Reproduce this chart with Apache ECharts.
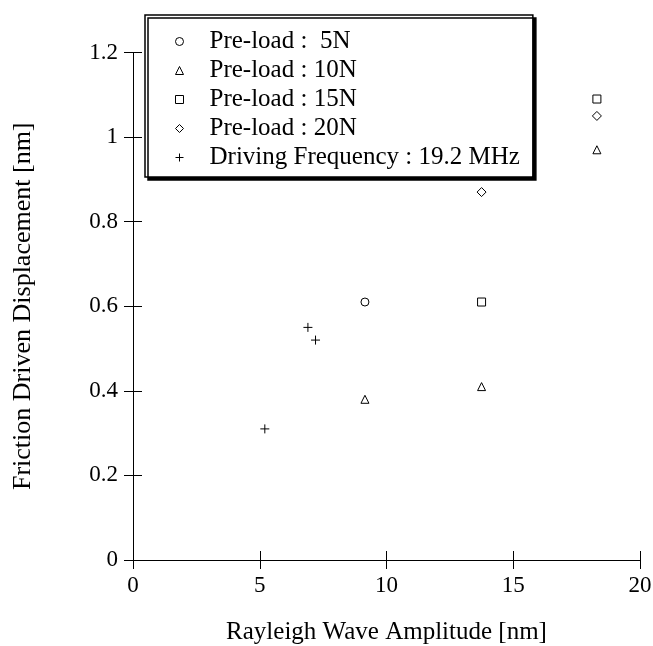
<!DOCTYPE html>
<html>
<head>
<meta charset="utf-8">
<script src="https://cdn.jsdelivr.net/npm/echarts@6/dist/echarts.min.js"></script>
<style>
  html, body { margin: 0; padding: 0; background: #fff; }
  #chart1 { width: 653px; height: 646px; }
</style>
</head>
<body>
<div id="chart1"></div>
<script>
// 数据
let names = ['Pre-load :  5N', 'Pre-load : 10N', 'Pre-load : 15N', 'Pre-load : 20N', 'Driving Frequency : 19.2 MHz'];
let load5_x = [9.15];
let load5_y = [0.61];
let load10_x = [9.15, 13.75, 18.3];
let load10_y = [0.38, 0.41, 0.97];
let load15_x = [13.75, 18.3];
let load15_y = [0.61, 1.09];
let load20_x = [13.75, 18.3];
let load20_y = [0.87, 1.05];
let freq_x = [5.2, 6.9, 7.2];
let freq_y = [0.31, 0.55, 0.52];
let xTicks = [0, 5, 10, 15, 20];
let yTicks = [0, 0.2, 0.4, 0.6, 0.8, 1, 1.2];

const font = 'Liberation Serif, Times New Roman, serif';

function pairs(xs, ys) {
    let out = [];
    for (let i = 0; i < xs.length; i++) out.push([xs[i], ys[i]]);
    return out;
}

function pointSeries(name, xs, ys, symbol, size) {
    return {
        name: name,
        type: 'scatter',
        data: pairs(xs, ys),
        symbol: symbol,
        symbolSize: size,
        itemStyle: { color: '#fff', borderColor: '#000', borderWidth: 1, opacity: 1 },
        emphasis: { disabled: true },
        silent: true
    };
}

let axisLine = { show: true, lineStyle: { color: '#000', width: 1 } };
let tick = { show: true, inside: true, length: 9, lineStyle: { color: '#000', width: 1 } };

let myChart1 = echarts.init(document.getElementById('chart1'));
let option1 = {
    backgroundColor: '#fff',
    animation: false,
    grid: { left: 133, right: 13, top: 52.5, bottom: 86, outerBoundsMode: 'none' },
    legend: {
        orient: 'vertical',
        left: 145,
        top: 15,
        padding: [12, 13, 5, 30],
        itemGap: 0,
        itemWidth: 8,
        itemHeight: 8,
        itemStyle: { borderWidth: 1, borderColor: '#000', color: '#fff' },
        backgroundColor: '#fff',
        borderColor: '#000',
        borderWidth: 1.5,
        borderRadius: 0,
        shadowColor: '#000',
        shadowBlur: 0,
        shadowOffsetX: 3,
        shadowOffsetY: 3,
        data: names,
        textStyle: { fontFamily: font, fontSize: 25, color: '#000', lineHeight: 29, padding: [0, 0, 0, 21] }
    },
    xAxis: [
        {
            type: 'value', min: xTicks[0], max: xTicks[xTicks.length - 1], interval: 5,
            name: 'Rayleigh Wave Amplitude [nm]', nameLocation: 'middle', nameGap: 60,
            nameTextStyle: { fontFamily: font, fontSize: 25, color: '#000' },
            axisLine: axisLine, axisTick: tick,
            axisLabel: { fontFamily: font, fontSize: 23, color: '#000', margin: 14 },
            splitLine: { show: false }
        },
        {
            type: 'value', position: 'top', min: xTicks[0], max: xTicks[xTicks.length - 1], interval: 5,
            axisLine: axisLine, axisTick: tick, axisLabel: { show: false }, splitLine: { show: false }
        }
    ],
    yAxis: [
        {
            type: 'value', min: yTicks[0], max: yTicks[yTicks.length - 1], interval: 0.2,
            name: 'Friction Driven Displacement [nm]', nameLocation: 'middle', nameGap: 97,
            nameTextStyle: { fontFamily: font, fontSize: 26, color: '#000' },
            axisLine: axisLine, axisTick: tick,
            axisLabel: { fontFamily: font, fontSize: 23, color: '#000', margin: 15 },
            splitLine: { show: false }
        },
        {
            type: 'value', position: 'right', min: yTicks[0], max: yTicks[yTicks.length - 1], interval: 0.2,
            axisLine: axisLine, axisTick: tick, axisLabel: { show: false }, splitLine: { show: false }
        }
    ],
    series: [
        pointSeries(names[0], load5_x, load5_y, 'circle', 8),
        pointSeries(names[1], load10_x, load10_y, 'triangle', 8),
        pointSeries(names[2], load15_x, load15_y, 'rect', 8),
        pointSeries(names[3], load20_x, load20_y, 'diamond', 9),
        pointSeries(names[4], freq_x, freq_y, 'path://M0,5L10,5M5,0L5,10', 9)
    ]
};
myChart1.setOption(option1);
</script>
</body>
</html>
